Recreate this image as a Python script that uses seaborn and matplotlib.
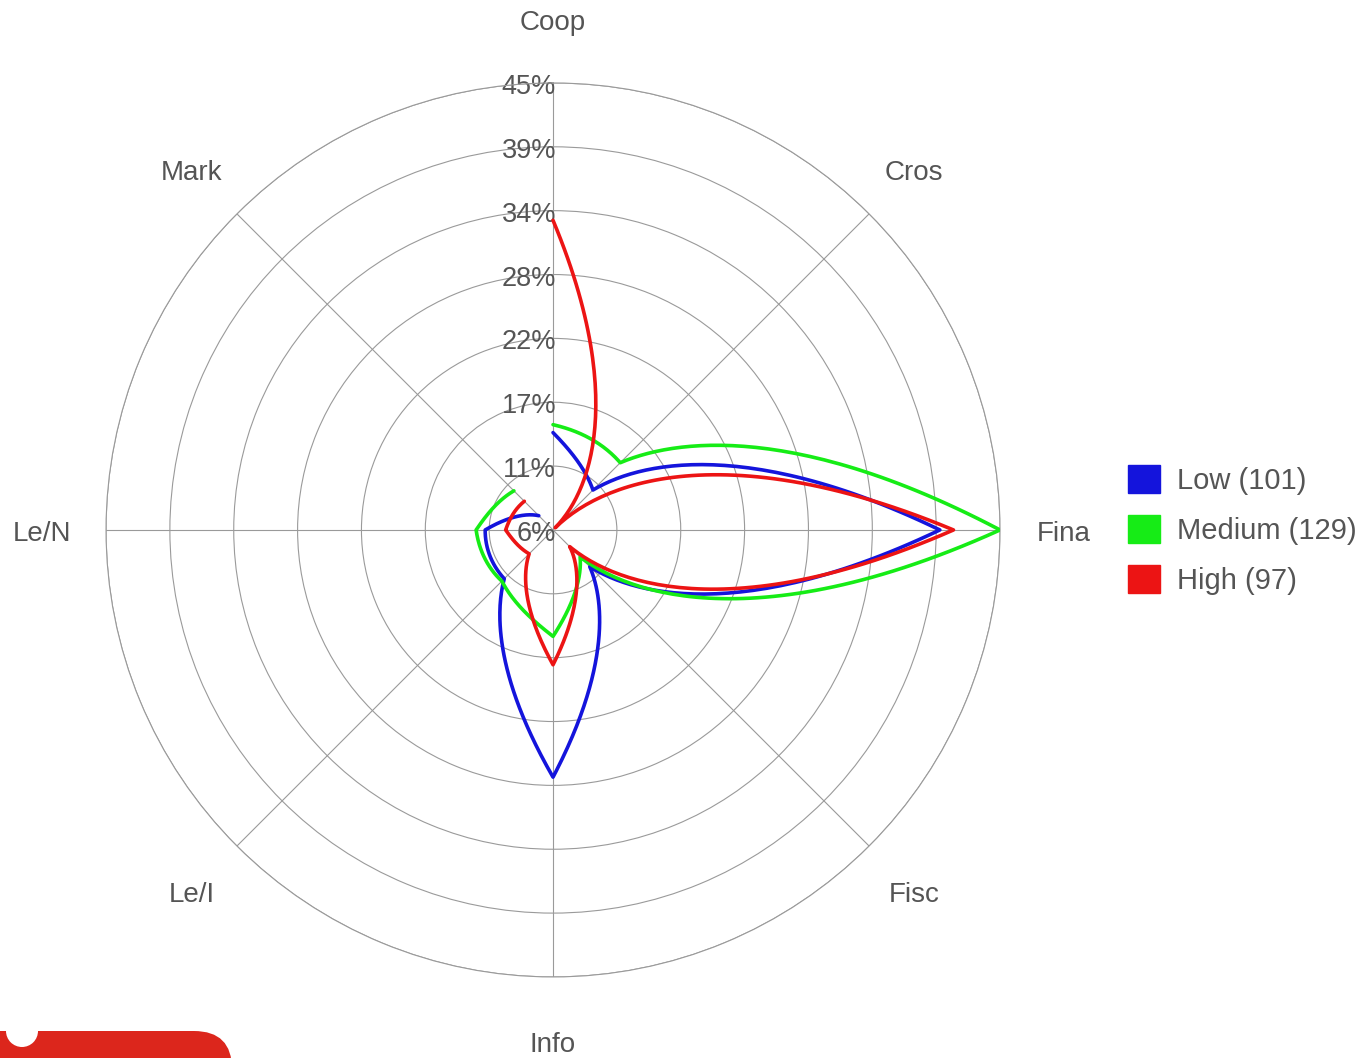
import numpy as np
import pandas as pd
import matplotlib
matplotlib.use("Agg")
import matplotlib.pyplot as plt
import matplotlib.transforms as mtransforms
from matplotlib.patches import Patch, FancyBboxPatch, Circle
import seaborn as sns

# categories clockwise from the top
categories = ["Coop", "Cros", "Fina", "Fisc", "Info", "Le/I", "Le/N", "Mark"]
series_names = ["Low (101)", "Medium (129)", "High (97)"]

# values in percent
low = [14.2, 10.6, 39.7, 10.2, 27.4, 11.7, 11.6, 7.4]
medium = [14.9, 14.0, 45.0, 9.0, 15.0, 12.0, 12.4, 10.5]
high = [32.9, 5.9, 40.9, 7.7, 17.5, 8.6, 9.8, 9.2]

r_ticks = [45 * k / 8 for k in range(1, 9)]
r_labels = ["6%", "11%", "17%", "22%", "28%", "34%", "39%", "45%"]

colors = ["#1414DC", "#16EC16", "#EC1414"]
grey = "#555555"


def petal_curve(vals, rmin, n=60, k=0.9):
    # open path, curved between spokes, sharp at the points
    thetas, rs = [], []
    step = 2 * np.pi / len(vals)
    for i in range(len(vals) - 1):
        qa, qb = vals[i] - rmin, vals[i + 1] - rmin
        t = np.linspace(0, 1, n)
        if qa >= qb:
            s = t
            q = qb + (qa - qb) * (1 - s) / (1 + k * s)
        else:
            s = 1 - t
            q = qa + (qb - qa) * (1 - s) / (1 + k * s)
        thetas.append(i * step + t * step)
        rs.append(q + rmin)
    return np.concatenate(thetas), np.concatenate(rs)


sns.set_theme(style="white")
plt.rcParams["font.family"] = ["Liberation Sans", "DejaVu Sans"]

fig = plt.figure(figsize=(13.66, 10.58), dpi=100)
ax = fig.add_axes([0.0776, 0.0766, 0.6545, 0.845], projection="polar")
ax.set_theta_zero_location("N")
ax.set_theta_direction(-1)

rmin = r_ticks[0]
rows = []
for name, vals in zip(series_names, [low, medium, high]):
    th, rr = petal_curve(vals, rmin)
    rows.append(pd.DataFrame({"theta": th, "r": rr, "series": name}))
df = pd.concat(rows, ignore_index=True)

sns.lineplot(data=df, x="theta", y="r", hue="series", palette=colors,
             sort=False, estimator=None, legend=False, lw=2.6, ax=ax, zorder=3)

ax.set_ylim(rmin, 45)
ax.set_yticks(r_ticks)
ax.set_yticklabels([])
spokes = np.arange(len(categories)) * 2 * np.pi / len(categories)
ax.set_xticks(spokes)
ax.set_xticklabels([])
ax.set_xlabel("")
ax.set_ylabel("")
ax.grid(True, color="#9a9a9a", lw=0.8)
ax.spines["polar"].set_color("#9a9a9a")
ax.spines["polar"].set_linewidth(0.8)

# radial labels along the Coop spoke
offset = mtransforms.ScaledTranslation(3 / 100, -4 / 100, fig.dpi_scale_trans)
for r, lab in zip(r_ticks, r_labels):
    ax.text(0, r, lab, ha="right", va="center", fontsize=19.5, color=grey,
            transform=ax.transData + offset, zorder=2)

# category labels
down = mtransforms.ScaledTranslation(0, -4 / 100, fig.dpi_scale_trans)
for th, cat in zip(spokes, categories):
    ax.text(th, 50.6, cat, ha="center", va="center", fontsize=20,
            color=grey, clip_on=False, transform=ax.transData + down)

handles = [Patch(facecolor=c, edgecolor=c) for c in colors]
fig.legend(handles, series_names, loc="center left",
           bbox_to_anchor=(1128 / 1366, 1 - 530 / 1058), frameon=False,
           fontsize=21, labelcolor=grey, handlelength=1.1, handleheight=1.1,
           handletextpad=0.58, labelspacing=0.7, borderpad=0, borderaxespad=0)

# red logo cut off at the bottom left
bg = fig.add_axes([0, 0, 1, 1], zorder=-1)
bg.set_xlim(0, 1366)
bg.set_ylim(1058, 0)
bg.axis("off")
bg.add_patch(FancyBboxPatch((-60, 1031), 292, 90,
                            boxstyle="round,pad=0,rounding_size=38",
                            facecolor="#DC261C", edgecolor="none"))
bg.add_patch(Circle((22, 1031), 16, facecolor="white", edgecolor="none"))
ax.set_zorder(1)
ax.patch.set_alpha(0)

fig.savefig("out.png", dpi=100)
